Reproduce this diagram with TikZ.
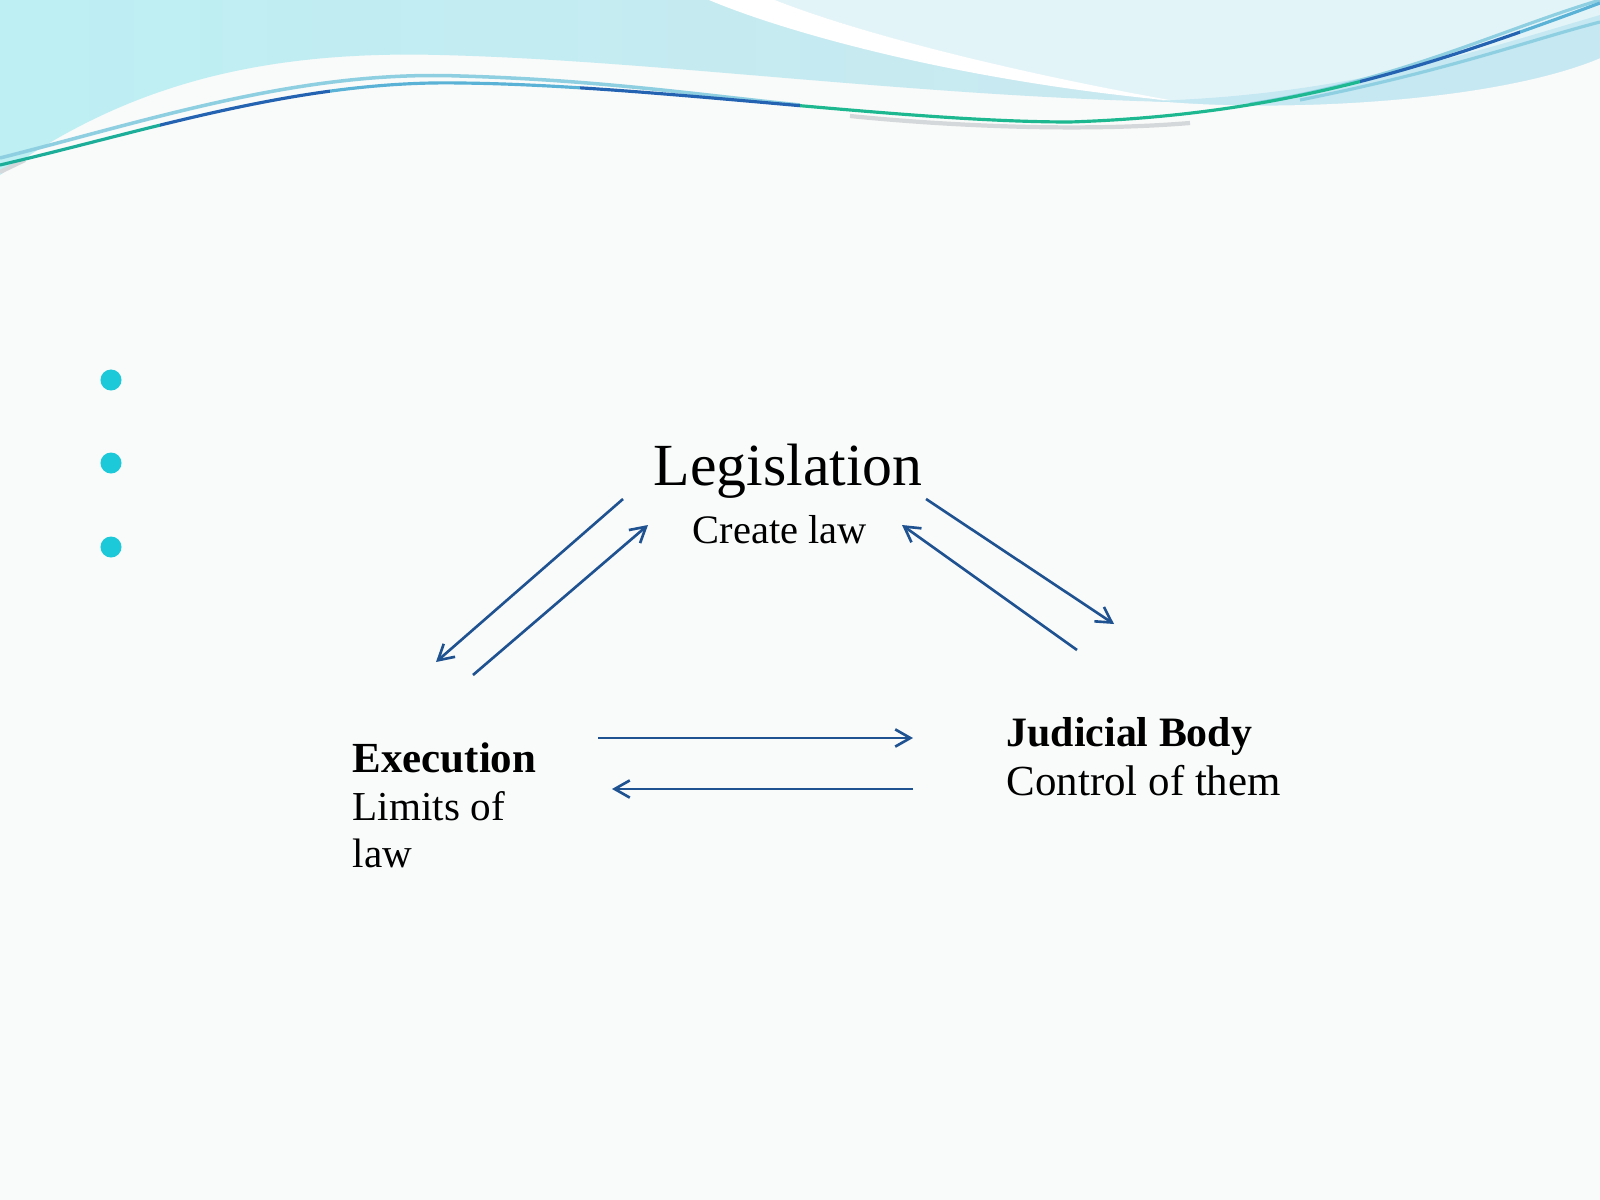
\documentclass[tikz,border=0pt]{standalone}
\usepackage{fontspec}
\setmainfont{Liberation Serif}
\usetikzlibrary{arrows.meta}
\definecolor{bgwhite}{HTML}{F9FAFA}
\definecolor{arrowblue}{HTML}{1F5290}
\definecolor{bulletcyan}{HTML}{1BC9D8}
\definecolor{cyanL}{HTML}{BDEFF3}
\definecolor{blueM}{HTML}{CFE6EF}
\definecolor{paleR}{HTML}{E3F4F8}
\definecolor{bandB}{HTML}{BEE6F1}
\definecolor{waveteal}{HTML}{1DAE9A}
\definecolor{waveblue}{HTML}{2462B2}
\definecolor{wavelight}{HTML}{5AB3D6}
\definecolor{wavegreen}{HTML}{1DB890}
\definecolor{thinblue}{HTML}{8ECFE1}
\definecolor{shadowgray}{HTML}{D5D8DA}
\tikzset{
  conn/.style={draw=arrowblue, line width=0.75pt, -{Straight Barb[length=4.3pt,width=4.9pt]}},
  txt/.style={anchor=base west, inner sep=0pt, text=black},
  bullet/.style={circle, fill=bulletcyan, inner sep=0pt, minimum size=0.21cm},
}
\begin{document}
\begin{tikzpicture}[x=0.01cm,y=-0.01cm]
\useasboundingbox (0,0) rectangle (1600,1200);
% background
\fill[bgwhite] (0,0) rectangle (1600,1200);
% left blue region
\shade[left color=cyanL, right color=blueM]
  (0,0) -- (1600,0) -- (1600,58) .. controls (1500,100) and (1300,112) .. (1170,102)
  .. controls (900,95) and (650,60) .. (440,55) .. controls (250,50) and (120,90) .. (0,175) -- cycle;
% pale region right of streak
\fill[paleR] (775,0) -- (1600,0) -- (1600,58) .. controls (1500,100) and (1300,112) .. (1170,102)
  .. controls (1000,70) and (850,30) .. (775,0) -- cycle;
% white streak
\fill[white] (709,0) .. controls (780,30) and (950,80) .. (1175,101)
  .. controls (1000,70) and (850,30) .. (775,0) -- cycle;
% right band
\fill[bandB, opacity=0.8] (1150,101) .. controls (1350,95) and (1480,50) .. (1600,15) -- (1600,58)
  .. controls (1500,100) and (1300,112) .. (1170,102) -- cycle;
% thin lines
\draw[thinblue, line width=1pt] (0,158) .. controls (150,120) and (300,70) .. (460,76) .. controls (600,80) and (700,95) .. (800,105);
\draw[thinblue, line width=0.9pt] (1250,104) .. controls (1400,80) and (1500,30) .. (1600,0);
\draw[thinblue, line width=0.9pt] (1300,100) .. controls (1450,70) and (1530,40) .. (1600,22);
\draw[shadowgray, line width=1.2pt] (850,116) .. controls (950,126) and (1080,132) .. (1190,123);
\draw[shadowgray, line width=1.2pt] (0,172) -- (25,160);
% main wave line, coloured in pieces
\def\mainwave{(0,165) .. controls (150,130) and (300,80) .. (460,83) .. controls (650,85) and (900,122) .. (1070,122) .. controls (1280,115) and (1420,70) .. (1600,3)}
\begin{scope}\clip (0,0) rectangle (160,200); \draw[waveteal, line width=0.9pt] \mainwave; \end{scope}
\begin{scope}\clip (160,0) rectangle (330,200); \draw[waveblue, line width=0.9pt] \mainwave; \end{scope}
\begin{scope}\clip (330,0) rectangle (580,200); \draw[wavelight, line width=0.9pt] \mainwave; \end{scope}
\begin{scope}\clip (580,0) rectangle (800,200); \draw[waveblue, line width=0.9pt] \mainwave; \end{scope}
\begin{scope}\clip (800,0) rectangle (1360,200); \draw[wavegreen, line width=0.9pt] \mainwave; \end{scope}
\begin{scope}\clip (1360,0) rectangle (1520,200); \draw[waveblue, line width=0.9pt] \mainwave; \end{scope}
\begin{scope}\clip (1520,0) rectangle (1600,200); \draw[wavelight, line width=0.9pt] \mainwave; \end{scope}
% bullets
\node[bullet] (b1) at (111,380) {};
\node[bullet] (b2) at (111,463) {};
\node[bullet] (b3) at (111,547) {};
% texts
\node[txt, font=\fontsize{17}{20}\selectfont] (leg) at (653,485) {Legislation};
\node[txt, font=\fontsize{11.5}{14}\selectfont] (create) at (692,543) {Create law};
\node[txt, font=\fontsize{12.2}{14}\selectfont\bfseries] (exec) at (352,772) {Execution};
\node[txt, font=\fontsize{11.7}{14}\selectfont] (execa) at (352,820) {Limits of};
\node[txt, font=\fontsize{11.7}{14}\selectfont] (execb) at (352,867) {law};
\node[txt, font=\fontsize{11.9}{14}\selectfont\bfseries] (jud) at (1006,746) {Judicial Body};
\node[txt, font=\fontsize{12.2}{14}\selectfont] (juda) at (1006,795) {Control of them};
% arrow end points
\coordinate (a1s) at (623,499); \coordinate (a1e) at (436,662);
\coordinate (a2s) at (473,675); \coordinate (a2e) at (648,525);
\coordinate (a3s) at (926,499); \coordinate (a3e) at (1114,624);
\coordinate (a4s) at (1077,650); \coordinate (a4e) at (902,525);
\coordinate (a5s) at (598,738); \coordinate (a5e) at (913,738);
\coordinate (a6s) at (913,789); \coordinate (a6e) at (612,789);
\draw[conn] (a1s) -- (a1e);
\draw[conn] (a2s) -- (a2e);
\draw[conn] (a3s) -- (a3e);
\draw[conn] (a4s) -- (a4e);
\draw[conn] (a5s) -- (a5e);
\draw[conn] (a6s) -- (a6e);
\end{tikzpicture}
\end{document}
